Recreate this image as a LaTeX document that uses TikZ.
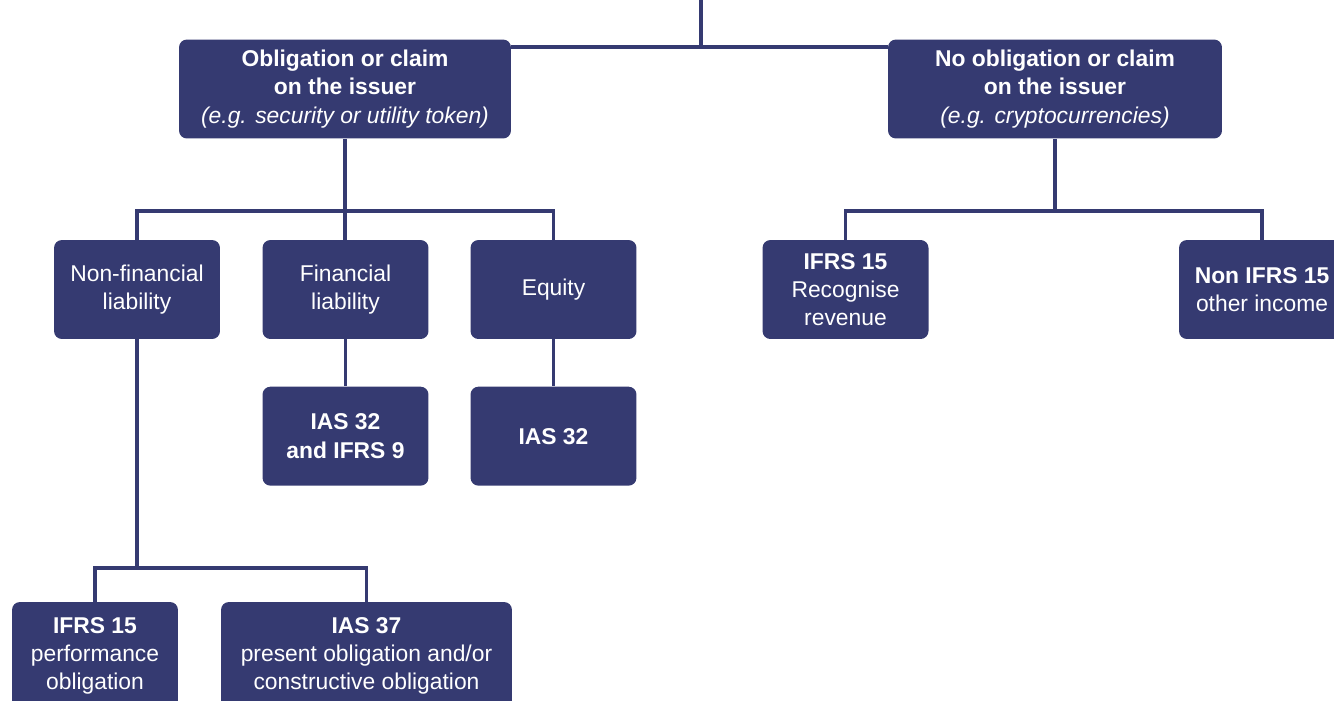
\documentclass[tikz,border=0pt]{standalone}
\usepackage{fontspec}
\setmainfont{Liberation Sans}
\usetikzlibrary{positioning}
\definecolor{navy}{HTML}{353A71}

\begin{document}
\begin{tikzpicture}[x=0.02cm,y=-0.02cm,
  box/.style={fill=navy,text=white,align=center,rounded corners=4.5pt,
    minimum width=3.32cm,minimum height=1.98cm,inner sep=0pt,
    font=\fontsize{13}{16}\selectfont},
  link/.style={draw=navy,line width=2pt}]

  \useasboundingbox (0,0) rectangle (1334,700);

  \node[box, minimum width=6.64cm] (claim)   at (345,89)
       {\textbf{Obligation or claim}\\\textbf{on the issuer}\\\textit{(e.g. security or utility token)}};
  \node[box, minimum width=6.68cm] (noclaim) at (1055,89)
       {\textbf{No obligation or claim}\\\textbf{on the issuer}\\\textit{(e.g. cryptocurrencies)}};
  \node[box] (nonfin) at (137,289.5)   {Non-financial\\liability};
  \node[box] (fin)    at (345.5,289.5) {Financial\\liability};
  \node[box] (equity) at (553.5,289.5) {Equity};
  \node[box] (rev)    at (845.5,289.5) {\textbf{IFRS 15}\\Recognise\\revenue};
  \node[box] (other)  at (1262,289.5)  {\textbf{Non IFRS 15}\\other income};
  \node[box] (iasnine) [below=0.94cm of fin]    {\textbf{IAS 32}\\\textbf{and IFRS 9}};
  \node[box] (iasonly) [below=0.94cm of equity] {\textbf{IAS 32}};
  \node[box, minimum height=2.16cm] (perf) at (95,656)
       {\textbf{IFRS 15}\\performance\\obligation};
  \node[box, minimum width=5.82cm, minimum height=2.16cm] (prov) at (366.5,656)
       {\textbf{IAS 37}\\present obligation and/or\\constructive obligation};

  \coordinate (top)     at (701,0);
  \coordinate (topbus)  at (701,47);
  \coordinate (midbus)  at (0,211);
  \coordinate (lowbus)  at (0,568);

  \draw[link] (top) -- (topbus);
  \draw[link] (claim.east |- topbus) -- (noclaim.west |- topbus);
  \draw[link] (claim.south) -- (claim.south |- fin.north);
  \draw[link] (nonfin.north) |- (equity.north |- midbus) -- (equity.north);
  \draw[link] (noclaim.south) -- (noclaim.south |- midbus);
  \draw[link] (rev.north) |- (other.north |- midbus) -- (other.north);
  \draw[link] (fin.south) -- (iasnine.north);
  \draw[link] (equity.south) -- (iasonly.north);
  \draw[link] (nonfin.south) -- (nonfin.south |- lowbus);
  \draw[link] (perf.north) |- (prov.north |- lowbus) -- (prov.north);
\end{tikzpicture}
\end{document}
